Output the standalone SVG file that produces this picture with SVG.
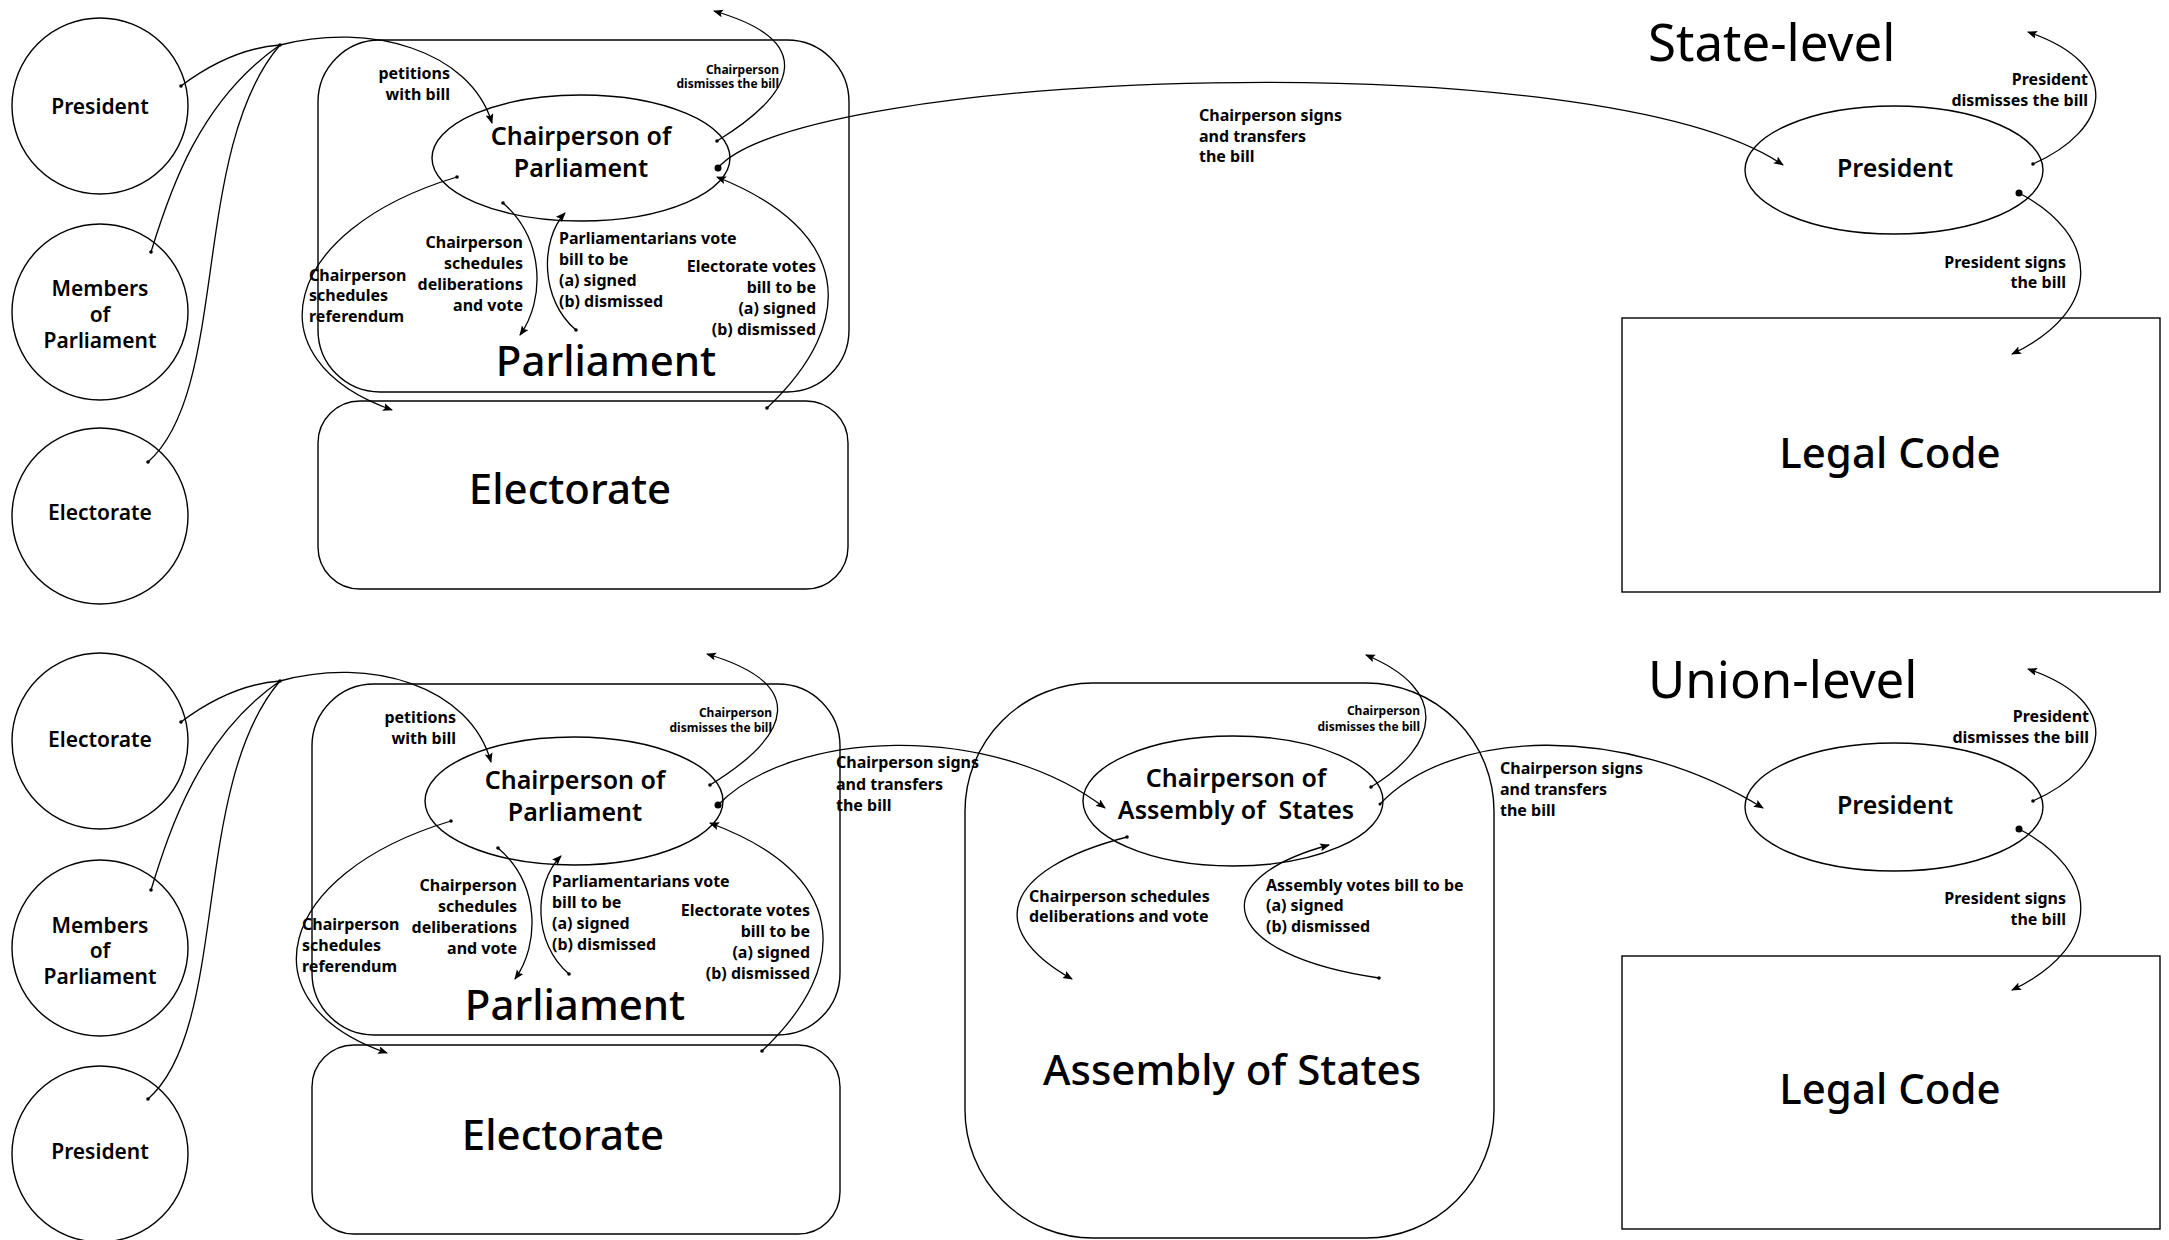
<svg xmlns="http://www.w3.org/2000/svg" width="2169" height="1240" viewBox="0 0 2169 1240">
<style>
.sh{fill:none;stroke:#000;stroke-width:1.4}
.c{fill:none;stroke:#000;stroke-width:1.3}
text{font-family:"Noto Sans","Open Sans","Liberation Sans",sans-serif;fill:#000}
.nl{font-size:21px;font-weight:600;text-anchor:middle}
.el{font-size:25px;font-weight:600;text-anchor:middle}
.big{font-size:42px;font-weight:500;text-anchor:middle}
.ttl{font-size:51px;font-weight:400}
.lb{font-size:16px;font-weight:700}
.sm{font-size:12px;font-weight:700;text-anchor:end}
.r{text-anchor:end}
.dot{fill:#000}
</style>
<defs>
<marker id="arr" markerUnits="userSpaceOnUse" markerWidth="11" markerHeight="9" refX="9" refY="4" orient="auto">
<path d="M0,0 L10,4 L0,8 L2,4 z" fill="#000"/>
</marker>
</defs>
<rect width="2169" height="1240" fill="#fff"/>

<!-- ===== titles ===== -->
<text class="ttl" x="1648" y="61">State-level</text>
<text class="ttl" x="1648" y="698">Union-level</text>

<!-- ===== State-level ===== -->
<g id="s-president-circle"><circle class="sh" cx="100" cy="106" r="88"/><text class="nl" x="100" y="114">President</text></g>
<g id="s-members-circle"><circle class="sh" cx="100" cy="312" r="88"/><text class="nl" x="100" y="296">Members</text><text class="nl" x="100" y="322">of</text><text class="nl" x="100" y="348">Parliament</text></g>
<g id="s-electorate-circle"><circle class="sh" cx="100" cy="516" r="88"/><text class="nl" x="100" y="520">Electorate</text></g>

<g id="s-parliament"><rect class="sh" x="318" y="40" width="531" height="352" rx="62"/><text class="big" x="606" y="376">Parliament</text></g>
<g id="s-electorate"><rect class="sh" x="318" y="401" width="530" height="188" rx="42"/><text class="big" x="570" y="504">Electorate</text></g>
<g id="s-chair"><ellipse class="sh" cx="581" cy="158" rx="149" ry="63"/><text class="el" x="581" y="145">Chairperson of</text><text class="el" x="581" y="177">Parliament</text></g>
<g id="s-president"><ellipse class="sh" cx="1894" cy="170" rx="149" ry="64"/><text class="el" x="1895" y="177">President</text></g>
<g id="s-legal"><rect class="sh" x="1622" y="318" width="538" height="274"/><text class="big" x="1890" y="468">Legal Code</text></g>

<!-- ===== Union-level ===== -->
<g id="u-electorate-circle"><circle class="sh" cx="100" cy="741" r="88"/><text class="nl" x="100" y="747">Electorate</text></g>
<g id="u-members-circle"><circle class="sh" cx="100" cy="948" r="88"/><text class="nl" x="100" y="933">Members</text><text class="nl" x="100" y="958">of</text><text class="nl" x="100" y="984">Parliament</text></g>
<g id="u-president-circle"><circle class="sh" cx="100" cy="1154" r="88"/><text class="nl" x="100" y="1159">President</text></g>

<g id="u-parliament"><rect class="sh" x="312" y="684" width="528" height="351" rx="62"/><text class="big" x="575" y="1020">Parliament</text></g>
<g id="u-electorate"><rect class="sh" x="312" y="1045" width="528" height="189" rx="42"/><text class="big" x="563" y="1150">Electorate</text></g>
<g id="u-chair"><ellipse class="sh" cx="574" cy="801" rx="149" ry="64"/><text class="el" x="575" y="789">Chairperson of</text><text class="el" x="575" y="821">Parliament</text></g>
<g id="u-assembly"><rect class="sh" x="965" y="683" width="529" height="555" rx="128"/><text class="big" x="1232" y="1085">Assembly of States</text></g>
<g id="u-assembly-chair"><ellipse class="sh" cx="1233" cy="801" rx="150" ry="65"/><text class="el" x="1236" y="787">Chairperson of</text><text class="el" x="1236" y="819" xml:space="preserve">Assembly of  States</text></g>
<g id="u-president"><ellipse class="sh" cx="1894" cy="807" rx="149" ry="64"/><text class="el" x="1895" y="814">President</text></g>
<g id="u-legal"><rect class="sh" x="1622" y="956" width="538" height="273"/><text class="big" x="1890" y="1104">Legal Code</text></g>

<!-- ===== connectors ===== -->
<g id="connectors">
<!-- state -->
<path class="c" d="M181,86 C205,68 240,48 280,45"/>
<path class="c" d="M151,252 C170,190 200,100 280,45"/>
<path class="c" d="M148,462 C230,390 190,150 280,45"/>
<path class="c" marker-end="url(#arr)" d="M280,45 C370,22 470,50 492,123"/>
<path class="c" marker-end="url(#arr)" d="M717,141 C800,90 815,40 714,11"/>
<path class="c" marker-end="url(#arr)" d="M718,168 C800,70 1600,40 1783,165"/>
<path class="c" marker-end="url(#arr)" d="M767,408 C860,320 850,230 717,177"/>
<path class="c" marker-end="url(#arr)" d="M457,177 C280,230 250,360 392,410"/>
<path class="c" marker-end="url(#arr)" d="M503,203 C545,240 545,300 520,335"/>
<path class="c" marker-end="url(#arr)" d="M576,330 C540,300 540,240 565,213"/>
<path class="c" marker-end="url(#arr)" d="M2033,164 C2110,130 2125,65 2028,32"/>
<path class="c" marker-end="url(#arr)" d="M2019,193 C2100,235 2105,310 2012,354"/>
<!-- union -->
<path class="c" d="M181,722 C205,704 240,684 280,681"/>
<path class="c" d="M151,890 C170,828 200,736 280,681"/>
<path class="c" d="M148,1099 C230,1027 190,786 280,681"/>
<path class="c" marker-end="url(#arr)" d="M280,681 C370,656 470,686 491,762"/>
<path class="c" marker-end="url(#arr)" d="M710,785 C793,734 808,684 707,654"/>
<path class="c" marker-end="url(#arr)" d="M718,805 C790,730 990,720 1105,808"/>
<path class="c" marker-end="url(#arr)" d="M762,1051 C855,963 845,873 710,823"/>
<path class="c" marker-end="url(#arr)" d="M451,821 C274,874 244,1004 387,1053"/>
<path class="c" marker-end="url(#arr)" d="M498,848 C540,884 540,944 515,979"/>
<path class="c" marker-end="url(#arr)" d="M569,974 C533,944 533,884 561,856"/>
<path class="c" marker-end="url(#arr)" d="M1371,787 C1440,745 1450,690 1366,655"/>
<path class="c" marker-end="url(#arr)" d="M1380,804 C1450,730 1620,720 1763,808"/>
<path class="c" marker-end="url(#arr)" d="M1127,837 C1000,870 985,930 1072,979"/>
<path class="c" marker-end="url(#arr)" d="M1379,978 C1220,955 1200,880 1329,845"/>
<path class="c" marker-end="url(#arr)" d="M2033,801 C2110,767 2125,702 2028,669"/>
<path class="c" marker-end="url(#arr)" d="M2019,829 C2100,871 2105,946 2012,990"/>
<!-- dots -->
<g class="dot">
<circle cx="181" cy="86" r="1.8"/><circle cx="151" cy="252" r="1.8"/><circle cx="148" cy="462" r="1.8"/><circle cx="280" cy="45" r="1.8"/>
<circle cx="717" cy="141" r="1.8"/><circle cx="718" cy="168" r="3.5"/><circle cx="767" cy="408" r="1.8"/><circle cx="457" cy="177" r="1.8"/>
<circle cx="503" cy="203" r="1.8"/><circle cx="576" cy="330" r="1.8"/><circle cx="2033" cy="164" r="1.8"/><circle cx="2019" cy="193" r="3.5"/>
<circle cx="181" cy="722" r="1.8"/><circle cx="151" cy="890" r="1.8"/><circle cx="148" cy="1099" r="1.8"/><circle cx="280" cy="681" r="1.8"/>
<circle cx="710" cy="785" r="1.8"/><circle cx="718" cy="805" r="3.5"/><circle cx="762" cy="1051" r="1.8"/><circle cx="451" cy="821" r="1.8"/>
<circle cx="498" cy="848" r="1.8"/><circle cx="569" cy="974" r="1.8"/><circle cx="1371" cy="787" r="1.8"/><circle cx="1380" cy="804" r="1.5"/>
<circle cx="1127" cy="837" r="1.8"/><circle cx="1379" cy="978" r="1.8"/><circle cx="2033" cy="801" r="1.8"/><circle cx="2019" cy="829" r="3.5"/>
</g>
</g>

<!-- ===== labels ===== -->
<g id="labels">
<text class="lb r" x="450" y="79">petitions</text><text class="lb r" x="450" y="100">with bill</text>
<text class="sm" x="779" y="74">Chairperson</text><text class="sm" x="779" y="88">dismisses the bill</text>
<text class="lb r" x="523" y="248">Chairperson</text><text class="lb r" x="523" y="269">schedules</text><text class="lb r" x="523" y="290">deliberations</text><text class="lb r" x="523" y="311">and vote</text>
<text class="lb" x="559" y="244">Parliamentarians vote</text><text class="lb" x="559" y="265">bill to be</text><text class="lb" x="559" y="286">(a) signed</text><text class="lb" x="559" y="307">(b) dismissed</text>
<text class="lb" x="309" y="281">Chairperson</text><text class="lb" x="309" y="301">schedules</text><text class="lb" x="309" y="322">referendum</text>
<text class="lb r" x="816" y="272">Electorate votes</text><text class="lb r" x="816" y="293">bill to be</text><text class="lb r" x="816" y="314">(a) signed</text><text class="lb r" x="816" y="335">(b) dismissed</text>
<text class="lb" x="1199" y="121">Chairperson signs</text><text class="lb" x="1199" y="142">and transfers</text><text class="lb" x="1199" y="162">the bill</text>
<text class="lb r" x="2088" y="85">President</text><text class="lb r" x="2088" y="106">dismisses the bill</text>
<text class="lb r" x="2066" y="268">President signs</text><text class="lb r" x="2066" y="288">the bill</text>

<text class="lb r" x="456" y="723">petitions</text><text class="lb r" x="456" y="744">with bill</text>
<text class="sm" x="772" y="717">Chairperson</text><text class="sm" x="772" y="732">dismisses the bill</text>
<text class="lb r" x="517" y="891">Chairperson</text><text class="lb r" x="517" y="912">schedules</text><text class="lb r" x="517" y="933">deliberations</text><text class="lb r" x="517" y="954">and vote</text>
<text class="lb" x="552" y="887">Parliamentarians vote</text><text class="lb" x="552" y="908">bill to be</text><text class="lb" x="552" y="929">(a) signed</text><text class="lb" x="552" y="950">(b) dismissed</text>
<text class="lb" x="302" y="930">Chairperson</text><text class="lb" x="302" y="951">schedules</text><text class="lb" x="302" y="972">referendum</text>
<text class="lb r" x="810" y="916">Electorate votes</text><text class="lb r" x="810" y="937">bill to be</text><text class="lb r" x="810" y="958">(a) signed</text><text class="lb r" x="810" y="979">(b) dismissed</text>
<text class="lb" x="836" y="768">Chairperson signs</text><text class="lb" x="836" y="790">and transfers</text><text class="lb" x="836" y="811">the bill</text>
<text class="sm" x="1420" y="715">Chairperson</text><text class="sm" x="1420" y="731">dismisses the bill</text>
<text class="lb" x="1500" y="774">Chairperson signs</text><text class="lb" x="1500" y="795">and transfers</text><text class="lb" x="1500" y="816">the bill</text>
<text class="lb" x="1029" y="902">Chairperson schedules</text><text class="lb" x="1029" y="922">deliberations and vote</text>
<text class="lb" x="1266" y="891">Assembly votes bill to be</text><text class="lb" x="1266" y="911">(a) signed</text><text class="lb" x="1266" y="932">(b) dismissed</text>
<text class="lb r" x="2089" y="722">President</text><text class="lb r" x="2089" y="743">dismisses the bill</text>
<text class="lb r" x="2066" y="904">President signs</text><text class="lb r" x="2066" y="925">the bill</text>
</g>
</svg>
